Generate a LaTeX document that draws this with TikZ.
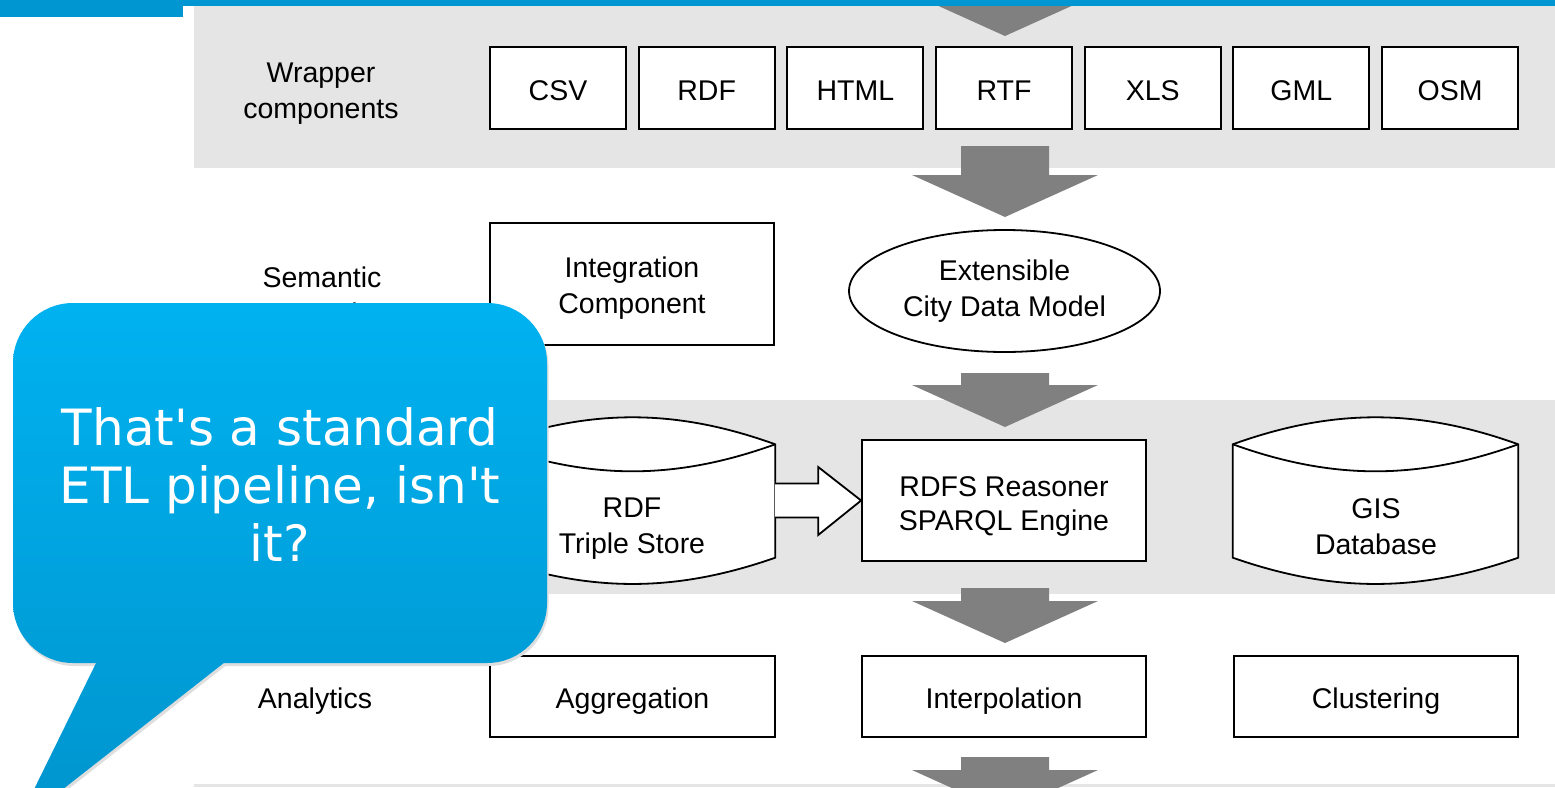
\documentclass[tikz,border=0pt]{standalone}
\usepackage{fontspec}
\setmainfont{Liberation Sans}
\newfontfamily\callfont{DejaVu Sans}
\usetikzlibrary{calc,shapes.geometric}
\definecolor{barblue}{RGB}{0,150,210}
\definecolor{bandgrey}{RGB}{229,229,229}
\definecolor{arrgrey}{RGB}{128,128,128}
\definecolor{calltop}{RGB}{0,178,240}
\definecolor{callbot}{RGB}{0,148,205}
\tikzset{
  lbl/.style={align=center, inner sep=0pt, font=\fontsize{28.5}{36}\selectfont},
  box/.style={draw, line width=1.8pt, fill=white, inner sep=0pt, align=center, font=\fontsize{28.5}{36}\selectfont,
    execute at begin node={\rule{0pt}{31.5pt}}, execute at end node={\rule[-7pt]{0pt}{7pt}}},
  cylbox/.style={inner sep=0pt, minimum width=285, minimum height=166},
  cylline/.style={draw, line width=1.8pt, fill=white},
  pics/downarr/.style={code={
    \fill[arrgrey] (0,0) -- (-93,-42) -- (-44,-42) -- (-44,{-42-#1}) -- (44,{-42-#1}) -- (44,-42) -- (93,-42) -- cycle;}}
}
\newcommand\drawcyl[1]{%
  \path[cylline] ($(#1.north west)+(0,27)$) .. controls ($(#1.north west)+(100,-9)$) and ($(#1.north east)+(-100,-9)$) .. ($(#1.north east)+(0,27)$)
    -- ($(#1.south east)+(0,-26)$) .. controls ($(#1.south east)+(-100,9)$) and ($(#1.south west)+(100,9)$) .. ($(#1.south west)+(0,-26)$) -- cycle;
  \draw[line width=1.8pt] ($(#1.north west)+(0,27)$) .. controls ($(#1.north west)+(100,63)$) and ($(#1.north east)+(-100,63)$) .. ($(#1.north east)+(0,27)$);}
\begin{document}
\begin{tikzpicture}[x=1pt,y=-1pt]
\useasboundingbox (0,0) rectangle (1555,787);
\fill[white] (0,0) rectangle (1555,787);
% bands
\fill[bandgrey] (194,6) rectangle (1555,168);
\fill[bandgrey] (194,400) rectangle (1555,594);
\fill[bandgrey] (194,784) rectangle (1555,787);
% big grey arrows
\pic at (1005,36) {downarr=20};
\pic at (1005,217) {downarr=29};
\pic at (1005,427) {downarr=12};
\pic at (1005,643) {downarr=13};
\pic at (1005,812) {downarr=13};
% wrapper layer
\node[lbl] (wlab) at (321,94) {Wrapper\\components};
\foreach \t [count=\i from 0] in {CSV,RDF,HTML,RTF,XLS,GML,OSM}
  \node[box, minimum width=136, minimum height=82] (w\i) at ({558+148.67*\i},88) {\t};
% semantic integration layer
\node[lbl] (slab) at (322,298) {Semantic\\Integration};
\node[box, minimum width=284, minimum height=122,
      label={[lbl, yshift=-4.5pt]center:{Integration\\Component}}] (integ) at (632,284) {};
\node[ellipse, draw, line width=1.8pt, fill=white, minimum width=311, minimum height=122, inner sep=0pt, align=center, font=\fontsize{28.5}{36}\selectfont] (ecdm) at (1004.5,291) {Extensible\\City Data Model};
% storage layer
\node[cylbox] (rdf) at (632.5,500.5) {};
\drawcyl{rdf}
\node[lbl] (rdft) at (632,529) {RDF\\Triple Store};
\node[box, minimum width=284, minimum height=121,
      label={[lbl, font=\fontsize{28.5}{34}\selectfont, yshift=-6pt]center:{RDFS Reasoner\\SPARQL Engine}}] (rdfs) at (1004,500.5) {};
\node[cylbox] (gis) at (1375.5,500.5) {};
\drawcyl{gis}
\node[lbl] (gist) at (1376,527) {GIS\\Database};
\draw[line width=1.8pt, fill=white] ($(rdf.east)+(0,-17)$) -- ++(43,0) -- ++(0,-16.5) -- (rdfs.west)
   -- ($(rdf.east)+(43,34.5)$) -- ++(0,-17.5) -- ($(rdf.east)+(0,17)$);
% analytics layer
\node[lbl] (alab) at (315,701) {Analytics};
\node[box, minimum width=285, minimum height=81] (agg) at (632.5,696.5) {Aggregation};
\node[box, minimum width=284, minimum height=81] (interp) at (1004,696.5) {Interpolation};
\node[box, minimum width=284, minimum height=81] (clus) at (1376,696.5) {Clustering};
% callout
\fill[black!13] [rounded corners=60] (14.5,306) rectangle (548.5,666);
\fill[black!13] (101.5,658) -- (235.5,658) -- (17.5,829) -- cycle;
\shade[top color=calltop, bottom color=callbot] (13,303) (547,826) [rounded corners=60] (13,303) rectangle (547,663);
\shade[top color=calltop, bottom color=callbot] (13,303) (547,826) (100,655) -- (234,655) -- (16,826) -- cycle;
\node[text=white, align=center, inner sep=0pt, font=\callfont\fontsize{50}{58}\selectfont] (ctext) at (280,484) {That's a standard\\ETL pipeline, isn't\\it?};
% top bar
\fill[barblue] (0,0) rectangle (1555,6);
\fill[barblue] (0,0) rectangle (183,16.5);
\end{tikzpicture}
\end{document}
